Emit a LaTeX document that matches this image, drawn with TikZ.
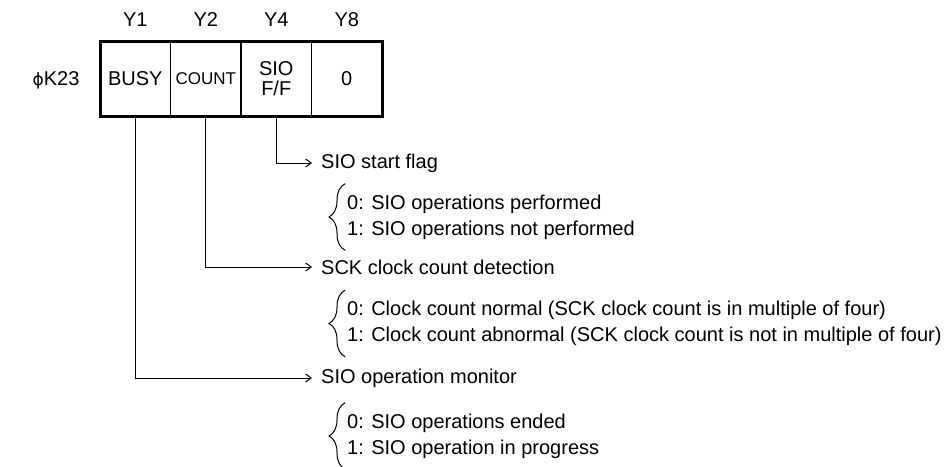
\documentclass[tikz,border=0pt]{standalone}
\usepackage{fontspec}
\setmainfont{Liberation Sans}
\newfontfamily\dejavu{DejaVu Sans}
\usetikzlibrary{arrows.meta,decorations.pathreplacing,positioning}
\begin{document}
\begin{tikzpicture}[x=1pt, y=-1pt, >={Straight Barb[length=5.5pt,width=8pt]}, line cap=round,
  font=\fontsize{20}{26}\selectfont,
  cell/.style={draw, line width=1.4pt, minimum width=70.5pt, minimum height=75pt, inner sep=0pt, outer sep=0pt, align=center},
  desc/.style={anchor=west, inner xsep=9pt, inner ysep=0pt},
  opts/.style={anchor=west, align=left, inner xsep=2pt, minimum height=66pt},
  brc/.style={decorate, decoration={brace, amplitude=16pt}, line width=1pt}]
  \useasboundingbox (0,0) rectangle (945,466);
  % register K23 and its bits
  \node (reg) at (56,80) {{\dejavu\fontsize{17}{20}\selectfont ϕ}K23};
  \node[cell] (busy) at (135.25,78.5) {BUSY};
  \node[cell, right=0pt of busy, font=\fontsize{17}{20}\selectfont] (count) {COUNT};
  \node[cell, right=0pt of count, font=\fontsize{20}{20}\selectfont] (sioff) {SIO\\F/F};
  \node[cell, right=0pt of sioff] (zero) {0};
  \draw[line width=3pt] (busy.north west) rectangle (zero.south east);
  \foreach \n/\t in {busy/Y1, count/Y2, sioff/Y4, zero/Y8}
    \node (\n-y) at (\n.north |- 0,20) {\t};
  % what each bit tells
  \node[desc] (flag) at (312,163) {SIO start flag};
  \node[opts] (flag-opt) at (345,217) {0: SIO operations performed\\1: SIO operations not performed};
  \node[desc] (sck) at (312,267) {SCK clock count detection};
  \node[opts] (sck-opt) at (345,323.5) {0: Clock count normal (SCK clock count is in multiple of four)\\1: Clock count abnormal (SCK clock count is not in multiple of four)};
  \node[desc] (mon) at (312,378) {SIO operation monitor};
  \node[opts] (mon-opt) at (345,436) {0: SIO operations ended\\1: SIO operation in progress};
  \foreach \o in {flag-opt, sck-opt, mon-opt}
    \draw[brc] (\o.south west) -- (\o.north west);
  \draw[->, line width=1pt] (sioff.south) |- (flag.west);
  \draw[->, line width=1pt] (count.south) |- (sck.west);
  \draw[->, line width=1pt] (busy.south) |- (mon.west);
\end{tikzpicture}
\end{document}
